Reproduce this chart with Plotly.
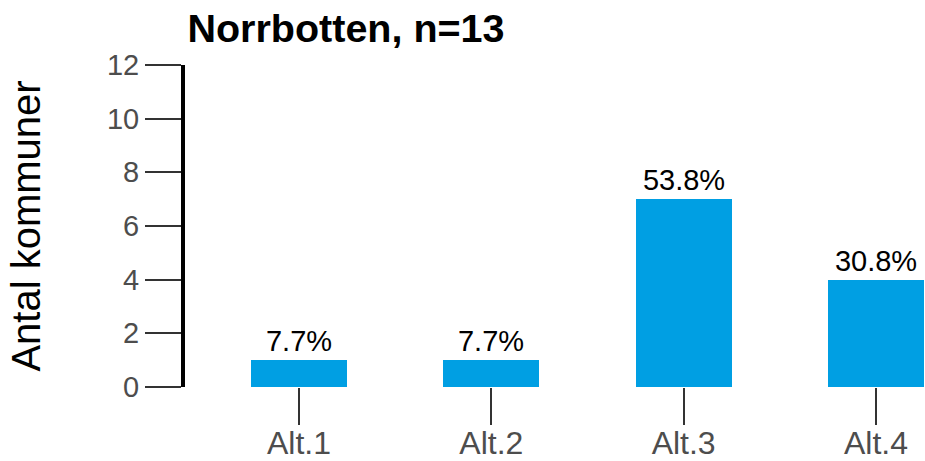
import plotly.graph_objects as go

categories = ["Alt.1", "Alt.2", "Alt.3", "Alt.4"]
counts = [1, 1, 7, 4]
labels = ["7.7%", "7.7%", "53.8%", "30.8%"]
yticks = [0, 2, 4, 6, 8, 10, 12]

fig = go.Figure(go.Bar(
    x=list(range(len(categories))), y=counts, width=0.5,
    marker=dict(color="#009FE3", line=dict(width=0)),
    text=labels, textposition="outside", cliponaxis=False,
    textfont=dict(color="black", size=29, family="Liberation Sans"),
))

fig.update_layout(
    width=925, height=461,
    margin=dict(l=185, r=0, t=65, b=74),
    plot_bgcolor="white", paper_bgcolor="white",
    font=dict(family="Liberation Sans", color="#4d4d4d"),
    title=dict(text="<b>Norrbotten, n=13</b>", x=346/925, xanchor="center",
               y=1-28/461, yanchor="middle",
               font=dict(size=39.5, color="black", family="Liberation Sans")),
    showlegend=False,
    bargap=0,
)
fig.update_xaxes(
    range=[-0.593, 3.255], tickmode="array",
    tickvals=list(range(len(categories))), ticktext=categories,
    ticks="outside", ticklen=37, tickwidth=2, tickcolor="#333333",
    showline=False, showgrid=False, zeroline=False, automargin=False,
    tickfont=dict(size=32, color="#4d4d4d"), ticklabelstandoff=-9,
)
fig.update_yaxes(
    range=[0, 12], tickvals=yticks,
    ticks="outside", ticklen=36, tickwidth=2, tickcolor="#333333",
    showline=True, linewidth=4, linecolor="black",
    showgrid=False, zeroline=False, automargin=False,
    tickfont=dict(size=29, color="#4d4d4d"),
    title=dict(text="Antal kommuner", font=dict(size=40, color="black"), standoff=55),
)

fig.write_html("out.html", config={"displayModeBar": False},
               post_script="document.body.style.margin='0';document.body.style.padding='0';")
